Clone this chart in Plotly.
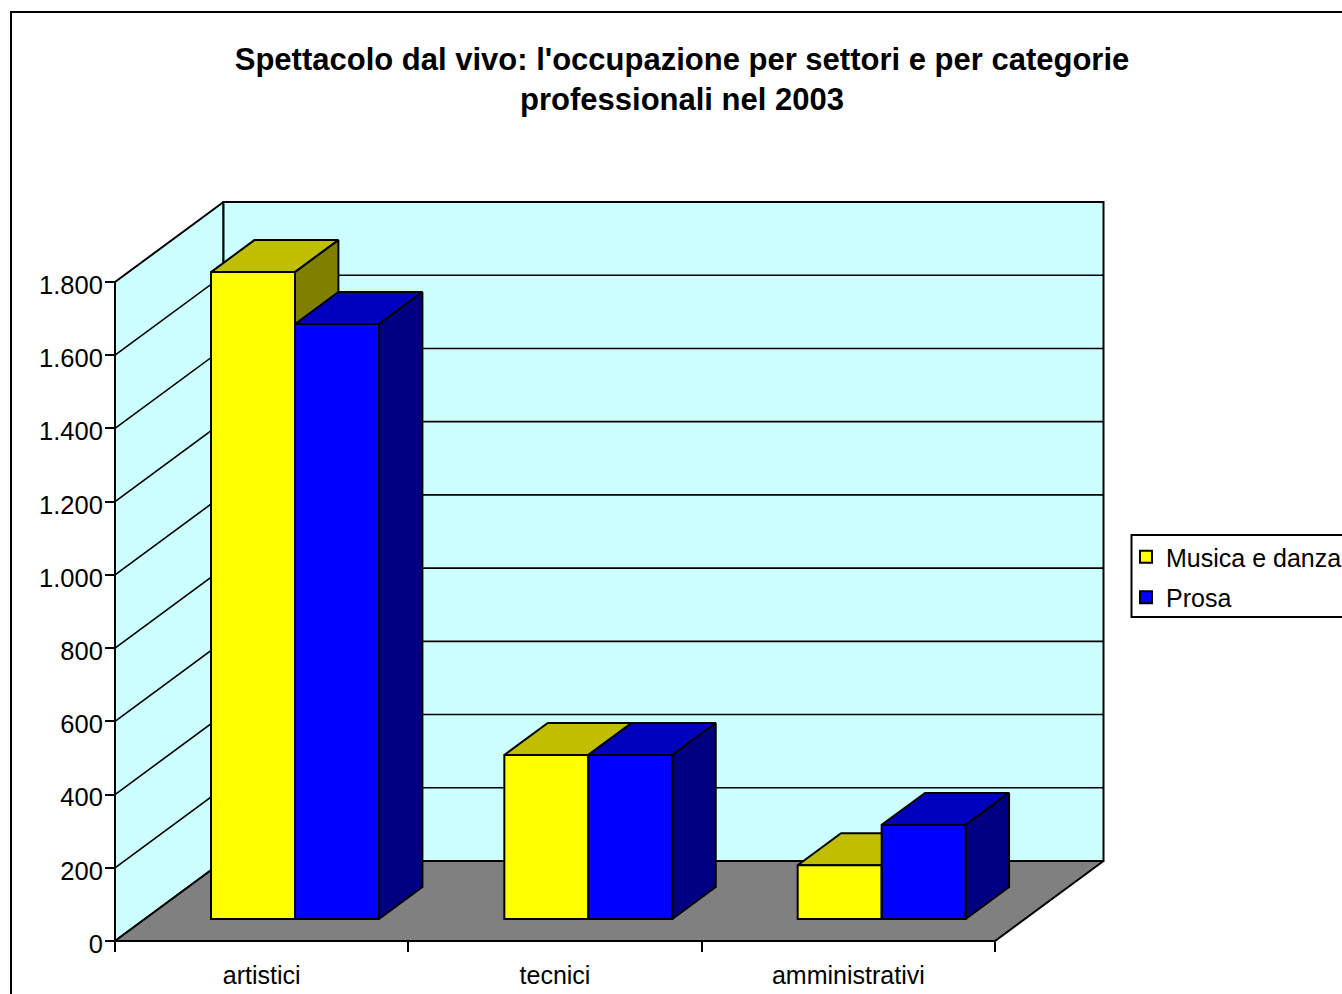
import plotly.graph_objects as go

categories = ["artistici", "tecnici", "amministrativi"]
musica_danza = [1767, 448, 147]
prosa = [1625, 448, 257]
y_ticks = [0, 200, 400, 600, 800, 1000, 1200, 1400, 1600, 1800]
y_labels = ["0", "200", "400", "600", "800", "1.000", "1.200", "1.400", "1.600", "1.800"]

W, H = 1342, 994
X0, X3, Y0, Y1800 = 115.0, 995.0, 941.0, 282.0
PX_CAT = (X3 - X0) / 3
PX_VAL = (Y0 - Y1800) / 1800
DEPTH_X = 108.5 / PX_CAT   # category units per full depth
DEPTH_V = 80.0 / PX_VAL    # value units per full depth
D_FRONT, D_BACK = 0.275, 0.675
BAR_W = 84.0 / PX_CAT
BAR_SHIFT = 3.5 / PX_CAT
LW = 2
FONT = "Liberation Sans, Arial, sans-serif"


def proj(x, v, d):
    return x + d * DEPTH_X, v + d * DEPTH_V


def poly(points, fill, z):
    xs, ys = zip(*[proj(*p) for p in points + [points[0]]])
    return go.Scatter(x=xs, y=ys, mode="lines", fill="toself", fillcolor=fill,
                      line=dict(color="black", width=LW), showlegend=False,
                      hoverinfo="skip", zorder=z, cliponaxis=False)


fig = go.Figure()
top_v = y_ticks[-1]
fig.add_trace(poly([(0, 0, 0), (0, 0, 1), (0, top_v, 1), (0, top_v, 0)], "#CCFFFF", 0))
fig.add_trace(poly([(0, 0, 1), (3, 0, 1), (3, top_v, 1), (0, top_v, 1)], "#CCFFFF", 0))
fig.add_trace(poly([(0, 0, 0), (3, 0, 0), (3, 0, 1), (0, 0, 1)], "#808080", 0))

gx, gy = [], []
for v in y_ticks[1:-1]:
    for p in [(0, v, 0), (0, v, 1), (3, v, 1)]:
        a, b = proj(*p)
        gx.append(a)
        gy.append(b)
    gx.append(None)
    gy.append(None)
fig.add_trace(go.Scatter(x=gx, y=gy, mode="lines", line=dict(color="black", width=1.6),
                         showlegend=False, hoverinfo="skip", zorder=0))

series = [
    ("Musica e danza", musica_danza, "#FFFF00", "#BFBF00", "#808000", -1),
    ("Prosa", prosa, "#0000FF", "#0000BF", "#000080", 0),
]
z = 1
for c in range(len(categories)):
    for name, vals, front, top, side, off in series:
        x1 = c + 0.5 + BAR_SHIFT + off * BAR_W
        x2 = x1 + BAR_W
        v = vals[c]
        fig.add_trace(poly([(x1, v, D_FRONT), (x2, v, D_FRONT), (x2, v, D_BACK), (x1, v, D_BACK)], top, z))
        fig.add_trace(poly([(x2, 0, D_FRONT), (x2, 0, D_BACK), (x2, v, D_BACK), (x2, v, D_FRONT)], side, z))
        bx, bbase = proj(x1, 0, D_FRONT)
        fig.add_trace(go.Bar(x=[bx], y=[v], base=[bbase], width=[BAR_W], offset=0,
                             name=name, legendgroup=name, showlegend=c == 0,
                             marker=dict(color=front, line=dict(color="black", width=LW)),
                             zorder=z + 1, hoverinfo="skip"))
        z += 2

fig.update_layout(
    width=W, height=H, autosize=False,
    margin=dict(l=0, r=0, t=0, b=0, autoexpand=False),
    paper_bgcolor="white", plot_bgcolor="white", barmode="overlay",
    font=dict(family=FONT, color="black", size=24),
    title=dict(text="Spettacolo dal vivo: l'occupazione per settori e per categorie<br>professionali nel 2003",
               font=dict(family=FONT, size=31, color="black", weight="bold"),
               x=682 / W, xanchor="center", y=1 - 70 / H, yanchor="middle", automargin=False),
    xaxis=dict(range=[-X0 / PX_CAT, (W - X0) / PX_CAT], domain=[0, 1], anchor="free",
               position=(H - Y0) / H, showgrid=False, zeroline=False, showline=False,
               tickmode="array", tickvals=[0.5, 1.5, 2.5], ticktext=categories, ticks="",
               tickfont=dict(size=25), ticklabelstandoff=17,
               minor=dict(tickmode="array", tickvals=[0, 1, 2, 3], ticks="outside",
                          ticklen=10, tickwidth=2, tickcolor="black", showgrid=False)),
    yaxis=dict(range=[-(H - Y0) / PX_VAL, Y0 / PX_VAL], domain=[0, 1], anchor="free",
               position=X0 / W, showgrid=False, zeroline=False, showline=False,
               tickmode="array", tickvals=y_ticks, ticktext=y_labels, ticks="outside",
               ticklen=10, tickwidth=2, tickcolor="black", tickfont=dict(size=25.5),
               ticklabelstandoff=-3, ticklabelshift=3),
    legend=dict(x=1126 / W, xanchor="left", y=1 - 534 / H, yanchor="top",
                bgcolor="rgba(0,0,0,0)", borderwidth=0, font=dict(size=25), tracegroupgap=5,
                itemclick=False, itemdoubleclick=False),
    shapes=[
        dict(type="rect", xref="paper", yref="paper", x0=11 / W, x1=1.1,
             y0=-0.1, y1=1 - 12 / H, line=dict(color="black", width=2),
             fillcolor="rgba(0,0,0,0)", layer="above"),
        dict(type="rect", xref="paper", yref="paper", x0=1131.5 / W, x1=1.05,
             y0=1 - 617 / H, y1=1 - 535 / H, line=dict(color="black", width=2),
             fillcolor="white", layer="below"),
    ],
    showlegend=True,
)

fig.write_html("out.html", config={"responsive": False, "displayModeBar": False},
               post_script="document.body.style.margin='0';document.body.style.overflow='hidden';")
